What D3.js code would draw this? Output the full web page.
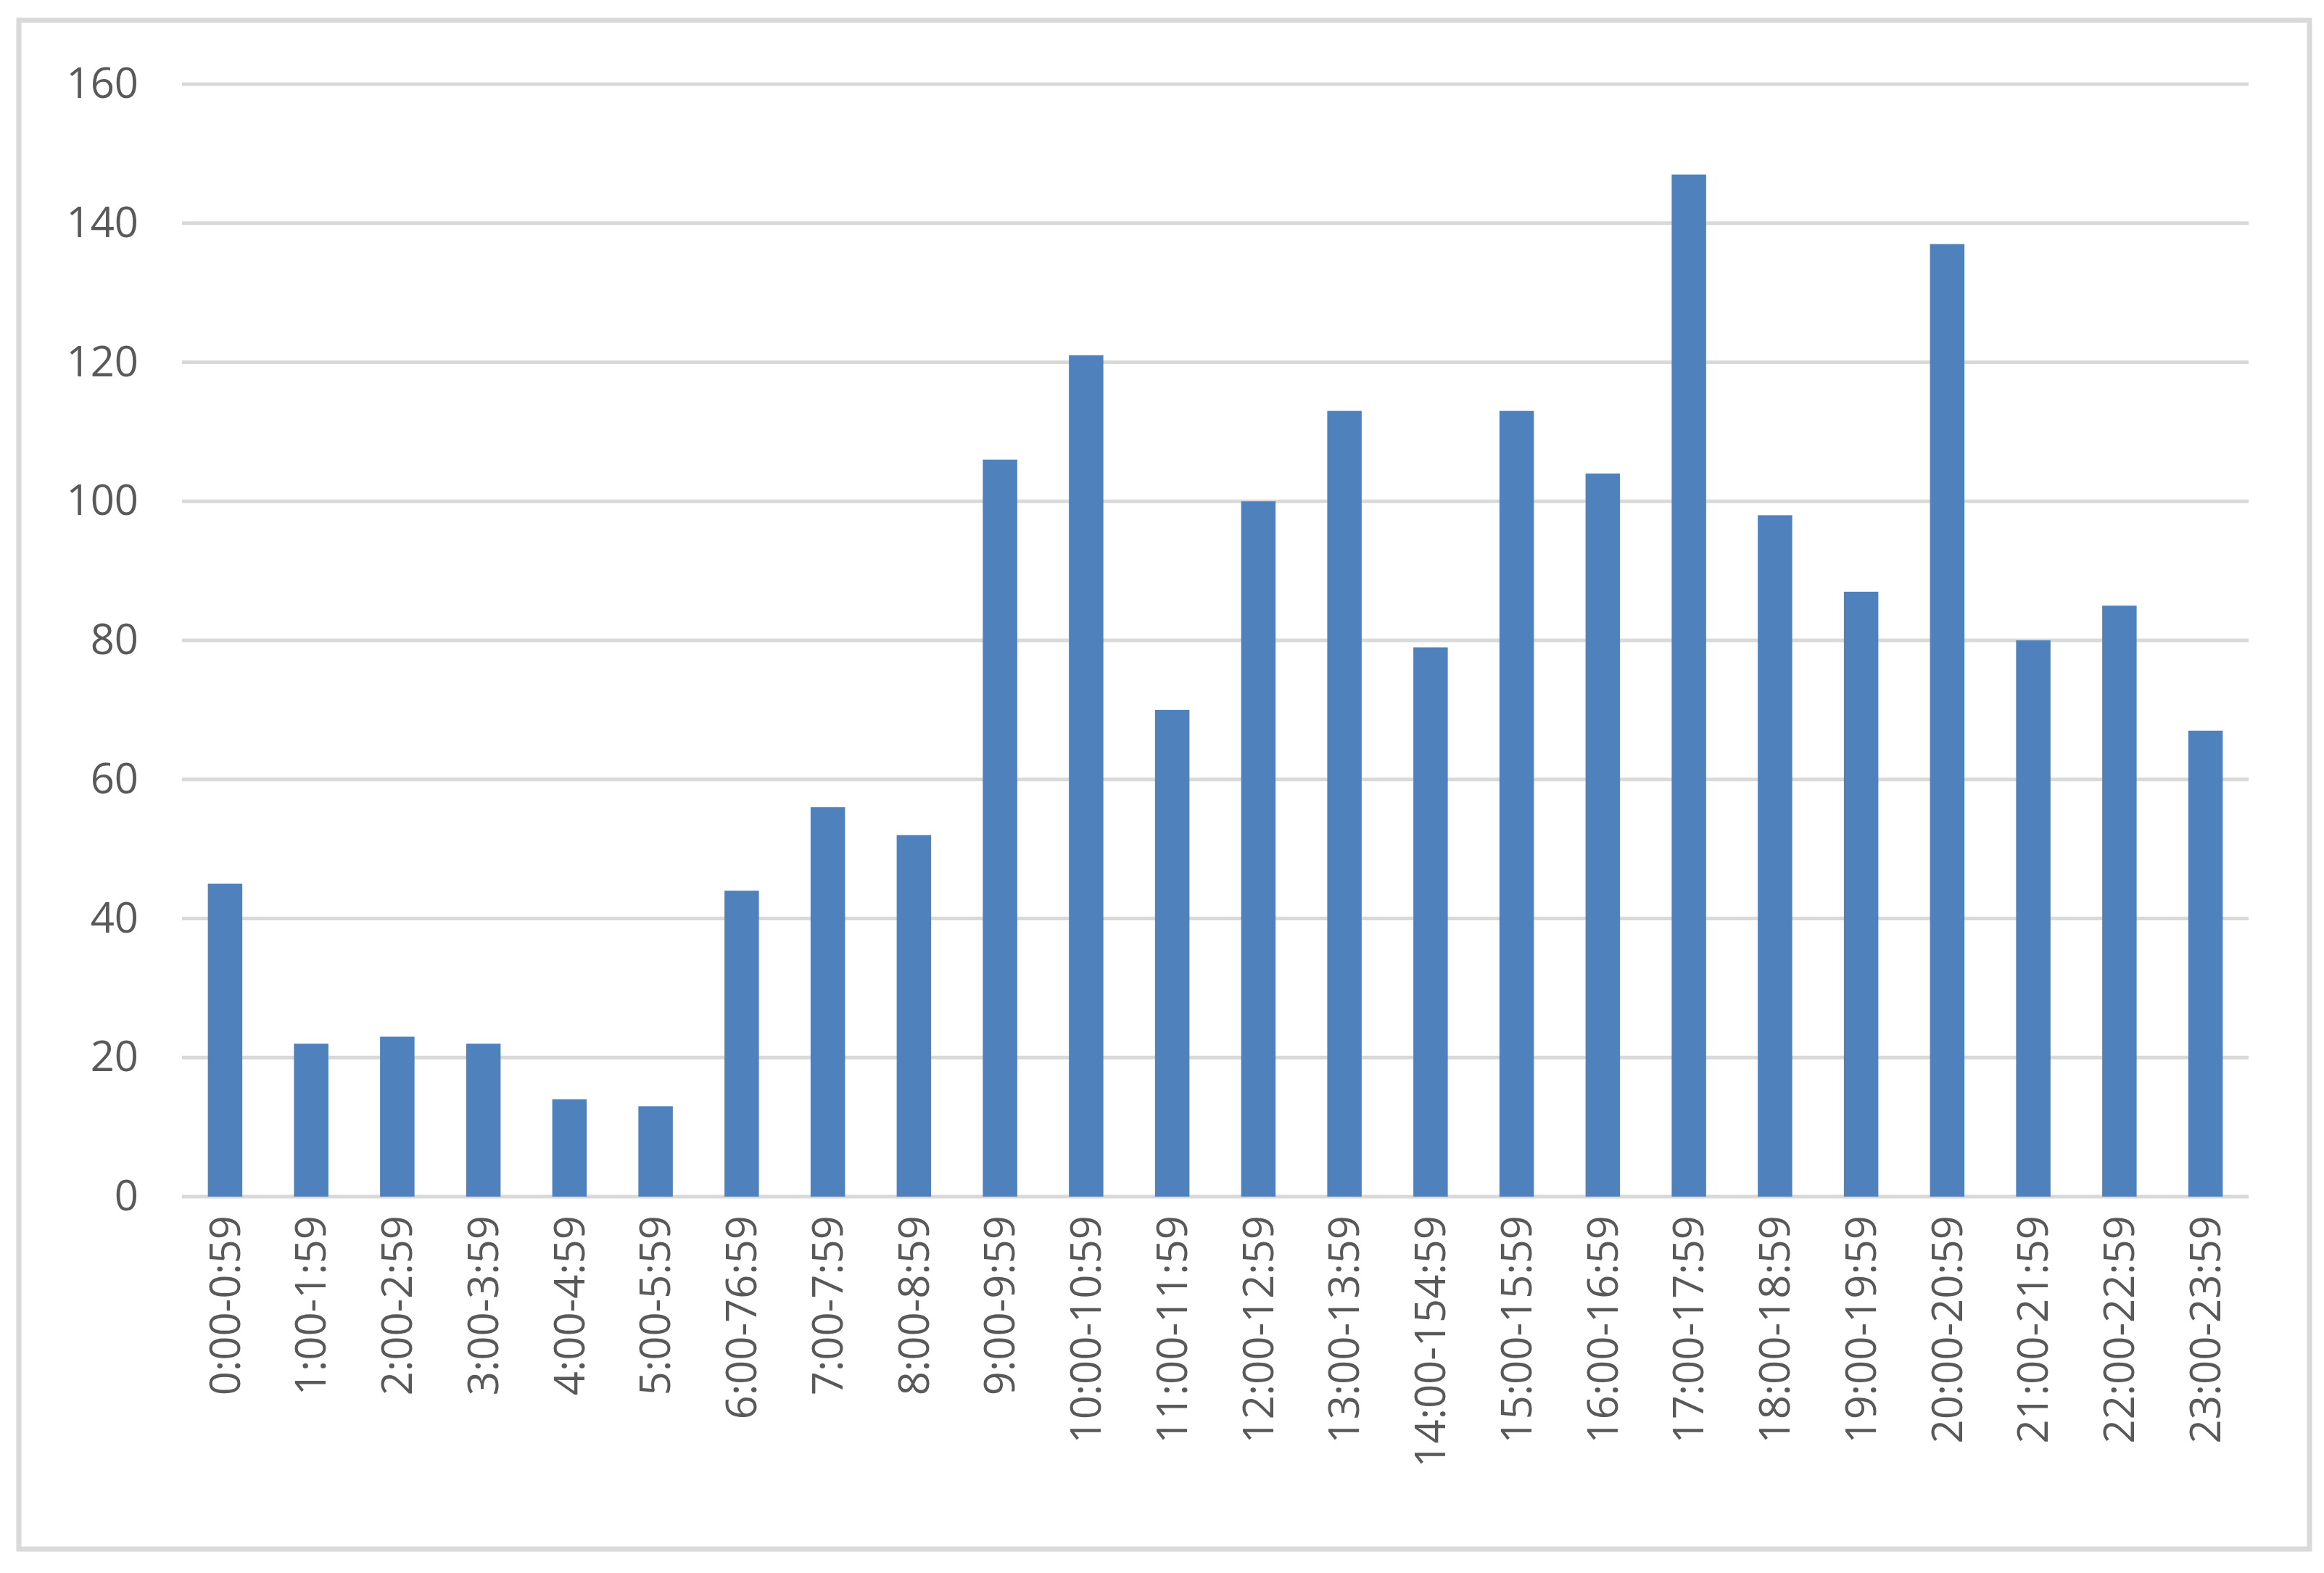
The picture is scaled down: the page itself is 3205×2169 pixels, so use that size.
<!DOCTYPE html>
<html>
<head>
<meta charset="utf-8">
<script src="https://cdn.jsdelivr.net/npm/d3@7"></script>
<style>
  body { margin: 0; background: #fff; }
  text { font-family: "Open Sans", "Noto Sans", sans-serif; fill: #595959; }
</style>
</head>
<body>
<div id="chart"></div>
<script>
const categories = ["0:00-0:59", "1:00-1:59", "2:00-2:59", "3:00-3:59", "4:00-4:59", "5:00-5:59",
  "6:00-76:59", "7:00-7:59", "8:00-8:59", "9:00-9:59", "10:00-10:59", "11:00-11:59",
  "12:00-12:59", "13:00-13:59", "14:00-154:59", "15:00-15:59", "16:00-16:59", "17:00-17:59",
  "18:00-18:59", "19:00-19:59", "20:00-20:59", "21:00-21:59", "22:00-22:59", "23:00-23:59"];
const counts = [45, 22, 23, 22, 14, 13, 44, 56, 52, 106, 121, 70, 100, 113, 79, 113, 104, 147, 98, 87, 137, 80, 85, 67];
const yTicks = [0, 20, 40, 60, 80, 100, 120, 140, 160];

const w = 3205, h = 2169;
const padLeft = 251, padRight = 3101, padTop = 116, padBottom = 1650;

const svg = d3.select("#chart").append("svg")
  .attr("width", w).attr("height", h);

// outer frame
svg.append("rect")
  .attr("x", 26).attr("y", 28)
  .attr("width", 3159).attr("height", 2108)
  .attr("fill", "none").attr("stroke", "#d9d9d9").attr("stroke-width", 7);

const x = d3.scaleBand().domain(categories).range([padLeft, padRight]).paddingInner(0.6).paddingOuter(0.3);
const y = d3.scaleLinear().domain([0, 160]).range([padBottom, padTop]);

// gridlines
svg.append("g").selectAll("line")
  .data(yTicks)
  .enter().append("line")
  .attr("x1", padLeft).attr("x2", padRight)
  .attr("y1", d => y(d)).attr("y2", d => y(d))
  .attr("stroke", "#d9d9d9").attr("stroke-width", 5);

const yAxis = d3.axisLeft(y).tickValues(yTicks).tickSize(0).tickPadding(60);
svg.append("g")
  .attr("transform", `translate(${padLeft}, 0)`)
  .call(yAxis)
  .call(g => g.select(".domain").remove())
  .selectAll("text")
  .attr("font-size", 58)
  .attr("font-family", "'Open Sans', sans-serif")
  .attr("fill", "#595959");

svg.append("g").selectAll("rect")
  .data(counts)
  .enter().append("rect")
  .attr("x", (d, i) => x(categories[i]))
  .attr("y", d => y(d))
  .attr("width", x.bandwidth())
  .attr("height", d => padBottom - y(d))
  .attr("fill", "#4f81bd");

const xAxis = d3.axisBottom(x).tickSize(0).tickPadding(0);
svg.append("g")
  .attr("transform", `translate(0, ${padBottom})`)
  .call(xAxis)
  .call(g => g.select(".domain").remove())
  .selectAll("text")
  .attr("font-size", 58)
  .attr("font-family", "'Open Sans', sans-serif")
  .attr("fill", "#595959")
  .attr("text-anchor", "end")
  .attr("dy", "0.35em")
  .attr("transform", "translate(0, 26) rotate(-90)")
  .attr("y", 0).attr("x", 0);
</script>
</body>
</html>
